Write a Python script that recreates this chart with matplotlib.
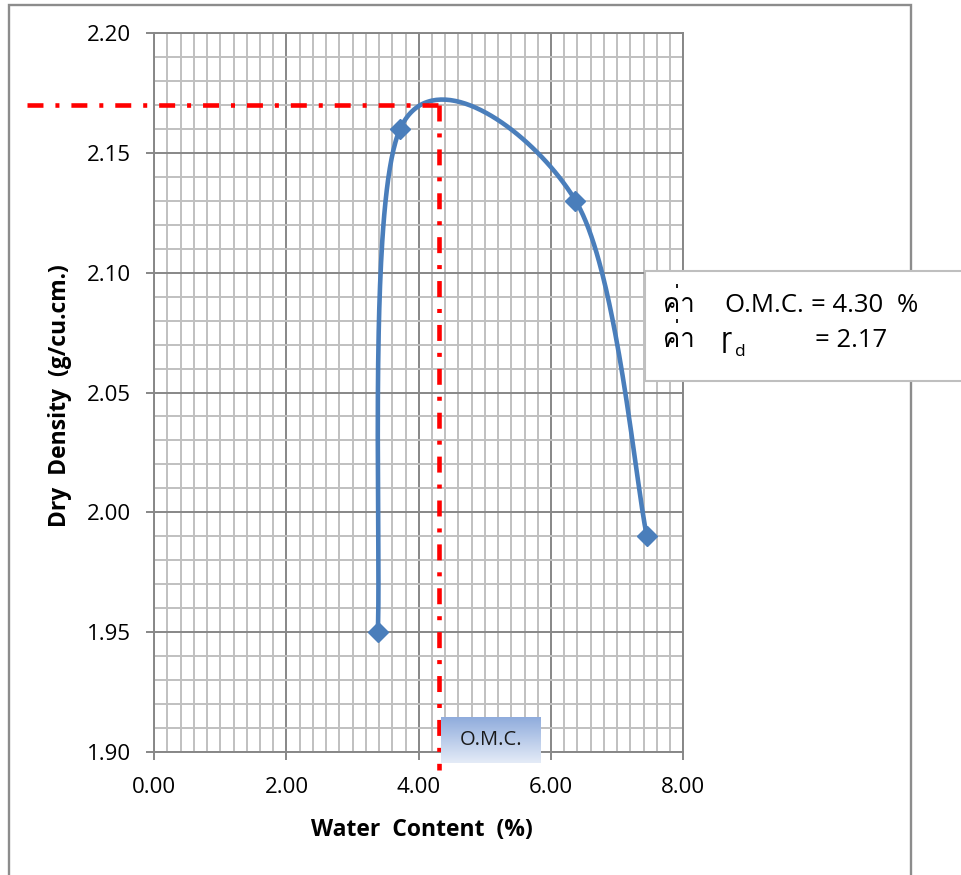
import numpy as np
import matplotlib
matplotlib.use("Agg")
import matplotlib.pyplot as plt
from matplotlib.patches import Rectangle
from matplotlib.ticker import MultipleLocator, FixedLocator, FixedFormatter
from matplotlib import font_manager as fm
from matplotlib.ft2font import FT2Font

# ---- data -------------------------------------------------------------
water_content = [3.38, 3.72, 6.37, 7.45]      # %
dry_density = [1.95, 2.16, 2.13, 1.99]        # g/cu.cm.
omc = 4.30                                    # optimum moisture content
max_dry_density = 2.17

x_ticks = [0, 2, 4, 6, 8]
x_tick_labels = ["0.00", "2.00", "4.00", "6.00", "8.00"]
y_ticks = [1.90, 1.95, 2.00, 2.05, 2.10, 2.15, 2.20]
y_tick_labels = ["1.90", "1.95", "2.00", "2.05", "2.10", "2.15", "2.20"]

x_title = "Water  Content  (%)"
y_title = "Dry  Density  (g/cu.cm.)"
omc_tag = "O.M.C."
thai_word = "ค่า"


# ---- fonts ------------------------------------------------------------
def family_with(ch, preferred=()):
    code = ord(ch)
    fonts = list(fm.fontManager.ttflist)
    fonts.sort(key=lambda f: (f.name not in preferred, f.name))
    for f in fonts:
        try:
            if code in FT2Font(f.fname).get_charmap():
                return f.name
        except Exception:
            continue
    return None


thai_family = family_with("ค", preferred=("Noto Sans Thai", "Noto Sans Thai UI",
                                          "Loma", "Garuda", "Waree", "Tlwg Typo"))
BASE = "Open Sans"
box_families = [BASE] + ([thai_family] if thai_family else []) + ["DejaVu Sans"]

plt.rcParams["font.family"] = [BASE, "DejaVu Sans"]
plt.rcParams["lines.scale_dashes"] = False

W, H = 961, 875
fig = plt.figure(figsize=(W / 100, H / 100), dpi=100)


def fx(px):
    return px / W


def fy(py):
    return 1 - py / H


# plotting area
left, right, top, bottom = 154.2, 683.3, 32.7, 752.3
ax = fig.add_axes([fx(left), fy(bottom), fx(right - left), (bottom - top) / H])
ax.set_xlim(0, 8)
ax.set_ylim(1.90, 2.20)

major_c = "#878787"
minor_c = "#C0C0C0"
ax.xaxis.set_major_locator(FixedLocator(x_ticks))
ax.xaxis.set_major_formatter(FixedFormatter(x_tick_labels))
ax.yaxis.set_major_locator(FixedLocator(y_ticks))
ax.yaxis.set_major_formatter(FixedFormatter(y_tick_labels))
ax.xaxis.set_minor_locator(MultipleLocator(0.2))
ax.yaxis.set_minor_locator(MultipleLocator(0.01))
ax.grid(which="minor", color=minor_c, lw=1.4, zorder=0)
ax.grid(which="major", color=major_c, lw=1.4, zorder=0.5)
ax.set_axisbelow(True)
ax.tick_params(which="minor", length=0)
ax.tick_params(which="major", length=5.5, width=1.4, color=major_c,
               labelsize=16, labelcolor="black")
ax.tick_params(axis="y", pad=11)
ax.tick_params(axis="x", pad=12)
for s in ax.spines.values():
    s.set_color(major_c)
    s.set_linewidth(1.4)

ax.set_xlabel(x_title, fontsize=16.5, fontweight="bold")
ax.set_ylabel(y_title, fontsize=16.5, fontweight="bold")
ax.xaxis.set_label_coords(0.505, -0.091)
ax.yaxis.set_label_coords(-0.155, 0.496)


# ---- smoothed compaction curve ----------------------------------------
def smooth_curve(xs, ys, n=80):
    p = np.column_stack([xs, ys]).astype(float)
    ext = np.vstack([p[0], p, p[-1]])
    t = np.linspace(0, 1, n)[:, None]
    parts = []
    for i in range(len(p) - 1):
        p0, p1, p2, p3 = ext[i], ext[i + 1], ext[i + 2], ext[i + 3]
        c1 = p1 + (p2 - p0) / 6.0
        c2 = p2 - (p3 - p1) / 6.0
        seg = ((1 - t) ** 3 * p1 + 3 * (1 - t) ** 2 * t * c1
               + 3 * (1 - t) * t ** 2 * c2 + t ** 3 * p2)
        parts.append(seg if i == 0 else seg[1:])
    return np.vstack(parts)


curve = smooth_curve(water_content, dry_density)
ax.plot(curve[:, 0], curve[:, 1], color="#4A7EBB", lw=3.3,
        solid_capstyle="round", zorder=3)
ax.plot(water_content, dry_density, ls="none", marker="D", ms=10.5,
        mfc="#4A7EBB", mec="#4A7EBB", zorder=4)

# ---- O.M.C. guide lines ------------------------------------------------
dash = (0, (11.5, 8.6, 2.9, 8.6))
ax.plot([-1.93, omc], [max_dry_density, max_dry_density], color="#FF0000",
        lw=3.3, ls=dash, clip_on=False, zorder=5)
ax.plot([omc, omc], [max_dry_density, 1.8925], color="#FF0000",
        lw=3.3, ls=dash, clip_on=False, zorder=5)

# ---- O.M.C. tag under the axis (gradient box) ---------------------------
fig.canvas.draw()
to_fig = fig.transFigure.inverted()
(bx0, by0) = to_fig.transform(ax.transData.transform((omc + 0.04, 1.8955)))
(bx1, by1) = to_fig.transform(ax.transData.transform((omc + 1.55, 1.9148)))
tag_ax = fig.add_axes([bx0, by0, bx1 - bx0, by1 - by0], zorder=6)
top_rgb = np.array(matplotlib.colors.to_rgb("#8EABDC"))
bot_rgb = np.array(matplotlib.colors.to_rgb("#E4EBF7"))
g = np.linspace(0, 1, 64)[:, None, None]
grad = top_rgb * (1 - g) + bot_rgb * g
tag_ax.imshow(grad, aspect="auto", extent=(0, 1, 0, 1), origin="upper")
tag_ax.set_axis_off()
tag_ax.text(0.5, 0.5, omc_tag, ha="center", va="center", fontsize=14.5,
            color="#1A1A1A", transform=tag_ax.transAxes)

# ---- chart frame -------------------------------------------------------
fig.patches.append(Rectangle((fx(9), -0.05), fx(911 - 9), fy(5) + 0.05,
                             transform=fig.transFigure, fill=False,
                             edgecolor="#8C8C8C", lw=1.7, zorder=7))

# ---- result text box ---------------------------------------------------
fig.patches.append(Rectangle((fx(645), fy(381)), fx(400), (381 - 271) / H,
                             transform=fig.transFigure, facecolor="white",
                             edgecolor="#BFBFBF", lw=1.5, zorder=8))
fs = 18.5
row1, row2 = 312, 347
kw = dict(fontsize=fs, va="baseline", ha="left", zorder=9,
          family=box_families, color="black")
fig.text(fx(663), fy(row1), thai_word, **kw)
fig.text(fx(724), fy(row1), "O.M.C.", **kw)
fig.text(fx(811), fy(row1), "= 4.30", **kw)
fig.text(fx(897), fy(row1), "%", **kw)
fig.text(fx(663), fy(row2), thai_word, **kw)
fig.text(fx(721), fy(row2), "ɼ", **kw)
fig.text(fx(735), fy(row2 + 9), "d", **dict(kw, fontsize=12.5))
fig.text(fx(815), fy(row2), "= 2.17", **kw)

fig.savefig("out.png", dpi=100)
